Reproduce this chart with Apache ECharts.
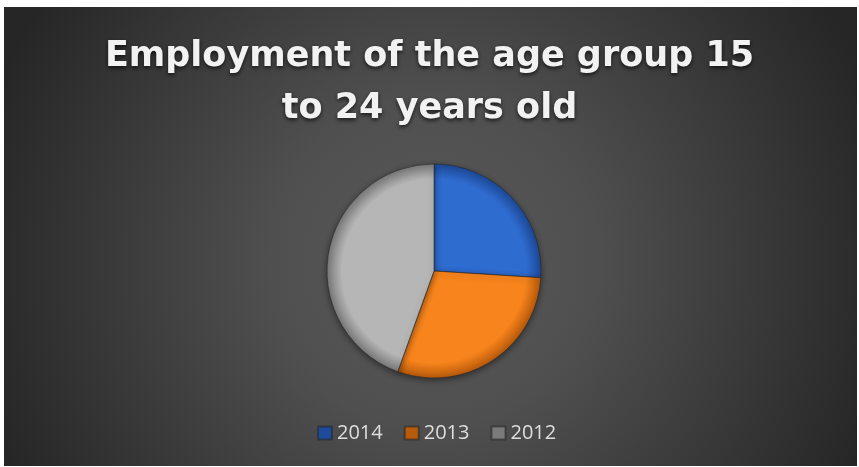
<!DOCTYPE html>
<html>
<head>
<meta charset="utf-8">
<script src="https://cdn.jsdelivr.net/npm/echarts@6/dist/echarts.min.js"></script>
<style>
  html, body { margin: 0; padding: 0; background: #ffffff; }
  #main { width: 859px; height: 467px; }
</style>
</head>
<body>
<div id="main"></div>
<script>
// data (share of the pie, estimated)
var years = ['2014', '2013', '2012'];
var shares = [26.0, 29.5, 44.5];
var sliceColors = ['#2f6cd0', '#f7841c', '#b6b6b6'];
var edgeColors = ['#1d4a99', '#b85a0c', '#7a7a7a'];

var cx = 434, cy = 271, rad = 107;

function sliceFill(i) {
    return {
        type: 'radial', x: cx, y: cy, r: rad, global: true,
        colorStops: [
            { offset: 0, color: sliceColors[i] },
            { offset: 0.86, color: sliceColors[i] },
            { offset: 1, color: edgeColors[i] }
        ]
    };
}

var pieData = [];
for (var i = 0; i < years.length; i++) {
    pieData.push({
        name: years[i],
        value: shares[i],
        itemStyle: { color: sliceFill(i) }
    });
}

var myChart = echarts.init(document.getElementById('main'));

var option = {
    animation: false,
    backgroundColor: '#ffffff',
    color: sliceColors,
    graphic: [{
        type: 'rect',
        z: -10,
        silent: true,
        shape: { x: 4, y: 7, width: 853, height: 459 },
        style: {
            fill: {
                type: 'radial', x: 432, y: 262, r: 470, global: true,
                colorStops: [
                    { offset: 0, color: '#5a5a5a' },
                    { offset: 0.35, color: '#4f4f4f' },
                    { offset: 1, color: '#262626' }
                ]
            }
        }
    }],
    title: {
        text: 'Employment of the age group 15\nto 24 years old',
        left: 'center',
        top: 26,
        textStyle: {
            fontFamily: 'DejaVu Sans',
            fontWeight: 'bold',
            fontSize: 35,
            lineHeight: 52,
            color: '#f2f2f2',
            textShadowColor: 'rgba(0,0,0,0.7)',
            textShadowBlur: 4,
            textShadowOffsetY: 2
        }
    },
    legend: {
        data: years,
        left: 312,
        top: 418,
        icon: 'rect',
        itemWidth: 14,
        itemHeight: 13,
        itemGap: 21,
        textStyle: {
            fontFamily: 'Open Sans',
            fontSize: 20,
            color: '#dedede'
        }
    },
    series: [{
        name: 'Employment',
        type: 'pie',
        center: [cx, cy],
        radius: rad,
        startAngle: 90,
        clockwise: true,
        label: { show: false },
        labelLine: { show: false },
        itemStyle: {
            borderColor: 'rgba(40,40,40,0.6)',
            borderWidth: 1,
            shadowColor: 'rgba(0,0,0,0.45)',
            shadowBlur: 6,
            shadowOffsetY: 2
        },
        emphasis: { disabled: true },
        data: pieData
    }]
};

myChart.setOption(option);
</script>
</body>
</html>
